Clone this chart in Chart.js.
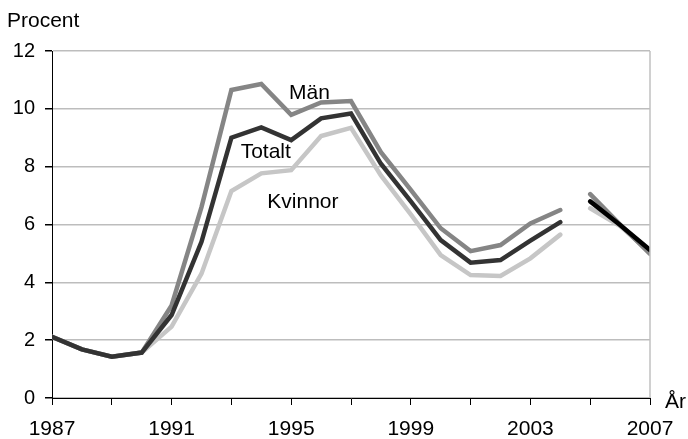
<!DOCTYPE html>
<html><head><meta charset="utf-8">
<script src="https://cdn.jsdelivr.net/npm/chart.js@4"></script>
<style>html,body{margin:0;padding:0;background:#fff}#wrap{width:688px;height:439px;position:relative}</style>
</head><body><div id="wrap"><canvas id="c"></canvas></div>
<script>
const years = [1987,1988,1989,1990,1991,1992,1993,1994,1995,1996,1997,1998,1999,2000,2001,2002,2003,2004,2005,2006,2007];
const man     = [2.12,1.68,1.43,1.57,3.20,6.60,10.65,10.86,9.79,10.22,10.27,8.50,7.20,5.87,5.08,5.29,6.04,6.50,null,null,null];
const totalt  = [2.12,1.68,1.43,1.57,2.87,5.40,9.00,9.36,8.92,9.67,9.84,8.10,6.80,5.46,4.68,4.77,5.44,6.08,null,null,null];
const kvinnor = [2.12,1.68,1.43,1.57,2.47,4.30,7.16,7.77,7.88,9.06,9.34,7.70,6.35,4.94,4.25,4.22,4.83,5.65,null,null,null];
const manNy     = [null,null,null,null,null,null,null,null,null,null,null,null,null,null,null,null,null,null,7.05,6.00,4.98];
const totaltNy  = [null,null,null,null,null,null,null,null,null,null,null,null,null,null,null,null,null,null,6.80,5.98,5.12];
const kvinnorNy = [null,null,null,null,null,null,null,null,null,null,null,null,null,null,null,null,null,null,6.56,5.95,5.05];
const yTicks = [0,2,4,6,8,10,12];
const seriesLabels = ['Män','Totalt','Kvinnor'];

const FONT = 'Liberation Sans, Arial, sans-serif';
const pts = arr => years.map((y,i)=>({x:y,y:arr[i]}));
function ds(label, arr, color, order){
  return {label, data:pts(arr), borderColor:color, backgroundColor:color, borderWidth:4.5,
    pointRadius:0, tension:0, spanGaps:false, borderCapStyle:'round', borderJoinStyle:'miter', order};
}
const annotations = [
  {text:seriesLabels[0], x:1994.93, y:10.34},
  {text:seriesLabels[1], x:1993.31, y:8.30},
  {text:seriesLabels[2], x:1994.20, y:6.58}
];
const textPlugin = {
  id:'texts',
  afterDraw(chart){
    const c = chart.ctx, a = chart.chartArea, xs = chart.scales.x, ys = chart.scales.y;
    c.save();
    c.strokeStyle = '#c0c0c0'; c.lineWidth = 1.5;
    c.beginPath(); c.moveTo(a.right, a.top); c.lineTo(a.right, a.bottom); c.stroke();
    c.fillStyle = '#000'; c.textBaseline = 'alphabetic'; c.textAlign = 'left';
    c.font = '21px ' + FONT;
    annotations.forEach(t => c.fillText(t.text, xs.getPixelForValue(t.x), ys.getPixelForValue(t.y)));
    c.font = '21px ' + FONT;
    c.fillText('Procent', 7, 27);
    c.fillText('År', 665, 408);
    c.restore();
  }
};
new Chart(document.getElementById('c'), {
  type:'line',
  data:{datasets:[
    ds('Totalt', totalt, '#333333', 1),
    ds('Män', man, '#858585', 2),
    ds('Kvinnor', kvinnor, '#c6c6c6', 3),
    ds('Totalt ny', totaltNy, '#000000', 1),
    ds('Män ny', manNy, '#858585', 2),
    ds('Kvinnor ny', kvinnorNy, '#c6c6c6', 3)
  ]},
  options:{
    responsive:true, maintainAspectRatio:false, animation:false,
    layout:{padding:{left:0, top:51, right:38, bottom:0}},
    plugins:{legend:{display:false}, tooltip:{enabled:false}},
    scales:{
      x:{type:'linear', min:years[0], max:years[years.length-1],
        afterFit(s){ s.height = 41; },
        grid:{drawOnChartArea:false, drawTicks:true, tickLength:7, tickColor:'#000'},
        border:{color:'#000', width:1},
        ticks:{stepSize:2, padding:12, color:'#000', font:{family:FONT, size:21}, maxRotation:0, autoSkip:false,
          callback:v => ((v-years[0])%4===0 ? String(v) : '')}
      },
      y:{min:yTicks[0], max:yTicks[yTicks.length-1],
        afterFit(s){ s.width = 52; },
        afterBuildTicks(s){ s.ticks = yTicks.map(v=>({value:v})); },
        grid:{color:'#bdbdbd', lineWidth:1.5, tickColor:'#000', tickLength:7, drawTicks:true},
        border:{color:'#000', width:1},
        ticks:{padding:10, color:'#000', font:{family:FONT, size:20}}
      }
    }
  },
  plugins:[textPlugin]
});
</script>
</body></html>
